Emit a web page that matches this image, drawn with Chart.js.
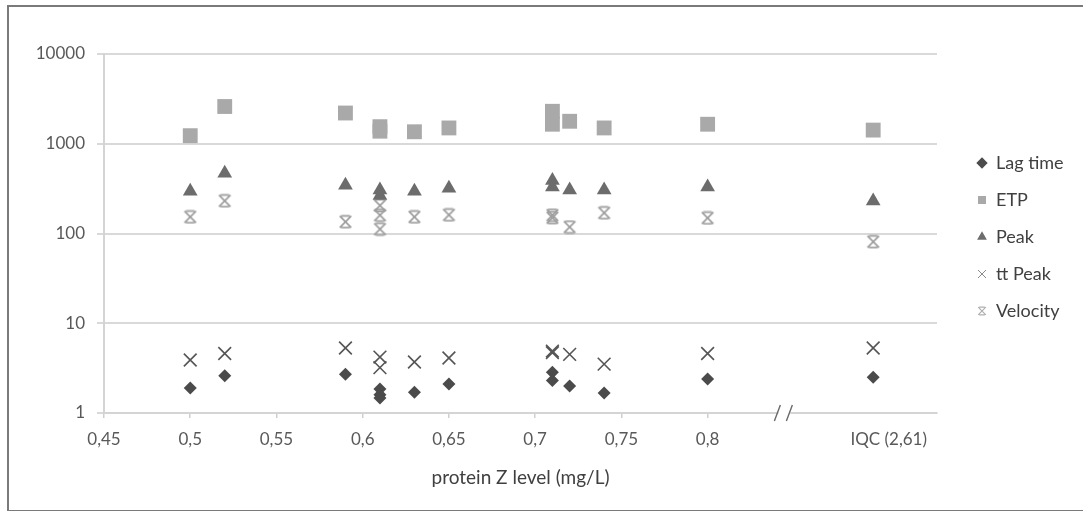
<!DOCTYPE html>
<html>
<head>
<meta charset="utf-8">
<script src="https://cdn.jsdelivr.net/npm/chart.js@4.4.1/dist/chart.umd.min.js"></script>
<style>
  html, body { margin: 0; padding: 0; background: #fff; overflow: hidden; }
  #wrap { position: relative; width: 1083px; height: 511px; }
  #frame { position: absolute; left: 7px; top: 5px; width: 1100px; height: 503px; border: 2px solid #7a7a7a; pointer-events: none; }
  canvas { position: absolute; left: 0; top: 0; }
</style>
</head>
<body>
<div id="wrap">
  <canvas id="c" width="1083" height="511"></canvas>
  <div id="frame"></div>
</div>
<script>
// ---- data ----
const IQC_X = 0.896; // plotted position of the IQC sample (beyond the axis break)

const lagX = [0.5, 0.52, 0.59, 0.61, 0.61, 0.61, 0.63, 0.65, 0.71, 0.71, 0.72, 0.74, 0.8, IQC_X];
const lagY = [1.9, 2.6, 2.7, 1.85, 1.6, 1.47, 1.7, 2.1, 2.85, 2.3, 2.0, 1.67, 2.4, 2.5];

const etpX = [0.5, 0.52, 0.59, 0.61, 0.61, 0.63, 0.65, 0.71, 0.71, 0.72, 0.74, 0.8, IQC_X];
const etpY = [1230, 2600, 2200, 1550, 1380, 1360, 1500, 2300, 1650, 1780, 1500, 1650, 1420];

const peakX = [0.5, 0.52, 0.59, 0.61, 0.61, 0.63, 0.65, 0.71, 0.71, 0.72, 0.74, 0.8, IQC_X];
const peakY = [295, 470, 345, 305, 265, 295, 320, 390, 330, 305, 305, 330, 230];

const ttPeakX = [0.5, 0.52, 0.59, 0.61, 0.61, 0.63, 0.65, 0.71, 0.71, 0.72, 0.74, 0.8, IQC_X];
const ttPeakY = [3.9, 4.6, 5.3, 4.2, 3.2, 3.7, 4.1, 4.9, 4.7, 4.5, 3.5, 4.6, 5.3];

const velX = [0.5, 0.52, 0.59, 0.61, 0.61, 0.61, 0.63, 0.65, 0.71, 0.71, 0.72, 0.74, 0.8, IQC_X];
const velY = [153, 231, 135, 205, 160, 112, 153, 161, 160, 150, 118, 170, 149, 81];

const xTickValues = [0.45, 0.5, 0.55, 0.6, 0.65, 0.7, 0.75, 0.8, 0.905];
const xTickLabels = ['0,45', '0,5', '0,55', '0,6', '0,65', '0,7', '0,75', '0,8', 'IQC (2,61)'];
const yTickValues = [1, 10, 100, 1000, 10000];
const BREAK_X = 0.8445;

function pts(xs, ys) { return xs.map((x, i) => ({ x: x, y: ys[i] })); }

// custom "star" marker (X with short bars top and bottom)
function starMarker(size, color, lw) {
  const c = document.createElement('canvas');
  c.width = size; c.height = size;
  const g = c.getContext('2d');
  g.strokeStyle = color; g.lineWidth = lw; g.lineCap = 'butt';
  const p = lw, q = size - lw, m = size / 2, h = size * 0.28;
  g.beginPath();
  g.moveTo(p, p); g.lineTo(q, q);
  g.moveTo(q, p); g.lineTo(p, q);
  g.moveTo(m - h, p); g.lineTo(m + h, p);
  g.moveTo(m - h, q); g.lineTo(m + h, q);
  g.stroke();
  return c;
}
const starBig = starMarker(15, '#9e9e9e', 1.7);
const starSmall = starMarker(10, '#b0b0b0', 1.2);

const breakPlugin = {
  id: 'axisBreak',
  afterDraw(chart) {
    const xs = chart.scales.x, ys = chart.scales.y;
    const ctx = chart.ctx;
    const px = xs.getPixelForValue(BREAK_X);
    const py = ys.bottom;
    ctx.save();
    ctx.fillStyle = '#fff';
    ctx.fillRect(px - 6, py - 3, 12, 6);
    ctx.strokeStyle = '#6a6a6a';
    ctx.lineWidth = 1.4;
    ctx.beginPath();
    ctx.moveTo(px - 10, py + 8); ctx.lineTo(px - 4, py - 8);
    ctx.moveTo(px + 2, py + 8); ctx.lineTo(px + 8, py - 8);
    ctx.stroke();
    ctx.restore();
  }
};

// fixed legend box: width, horizontal offset and vertical centre
const LEGEND_W = 146, LEGEND_SHIFT = 21, LEGEND_CENTER = 237;
const legendPlugin = {
  id: 'legendPlace',
  beforeUpdate(chart) {
    const lg = chart.legend;
    if (lg && !lg._wrappedFit) {
      const orig = lg.fit;
      lg.fit = function () { orig.call(this); this.width = LEGEND_W; };
      lg._wrappedFit = true;
    }
  },
  afterLayout(chart) {
    const lg = chart.legend;
    if (!lg) return;
    lg.left += LEGEND_SHIFT; lg.right += LEGEND_SHIFT;
    const dy = LEGEND_CENTER - (lg.top + lg.bottom) / 2;
    lg.top += dy; lg.bottom += dy;
  }
};

const FONT = 'Lato, "Open Sans", sans-serif';

new Chart(document.getElementById('c'), {
  type: 'scatter',
  data: {
    datasets: [
      { label: 'Lag time', data: pts(lagX, lagY), pointStyle: 'rectRot', pointRadius: 6.5,
        backgroundColor: '#4b4b4b', borderColor: '#4b4b4b', borderWidth: 0 },
      { label: 'ETP', data: pts(etpX, etpY), pointStyle: 'rect', pointRadius: 10.5,
        backgroundColor: '#a9a9a9', borderColor: '#a9a9a9', borderWidth: 0 },
      { label: 'Peak', data: pts(peakX, peakY), pointStyle: 'triangle', pointRadius: 8.5,
        backgroundColor: '#6c6c6c', borderColor: '#6c6c6c', borderWidth: 0 },
      { label: 'tt Peak', data: pts(ttPeakX, ttPeakY), pointStyle: 'crossRot', pointRadius: 9,
        backgroundColor: '#555', borderColor: '#555', borderWidth: 1.6 },
      { label: 'Velocity', data: pts(velX, velY), pointStyle: starBig, pointRadius: 7,
        backgroundColor: '#9e9e9e', borderColor: '#9e9e9e', borderWidth: 1.6 }
    ]
  },
  options: {
    responsive: false,
    animation: false,
    layout: { padding: { left: 0, top: 54, right: 0, bottom: 0 } },
    plugins: {
      tooltip: { enabled: false },
      legend: {
        position: 'right',
        labels: {
          usePointStyle: true,
          boxWidth: 10, boxHeight: 8,
          padding: 19,
          color: '#404040',
          font: { family: FONT, size: 18 },
          generateLabels(chart) {
            const items = Chart.defaults.plugins.legend.labels.generateLabels(chart);
            items.forEach(it => {
              if (it.text === 'Velocity') it.pointStyle = starSmall;
              if (it.text === 'tt Peak') { it.lineWidth = 1; it.strokeStyle = '#8a8a8a'; }
            });
            return items;
          }
        }
      }
    },
    scales: {
      x: {
        type: 'linear',
        min: 0.45, max: 0.933,
        afterFit(scale) { scale.height = 98; },
        afterBuildTicks(scale) { scale.ticks = xTickValues.map(v => ({ value: v })); },
        ticks: {
          autoSkip: false, maxRotation: 0, padding: 11,
          color: '#595959', font: { family: FONT, size: 17 },
          callback(v, i) { return xTickLabels[i]; }
        },
        grid: {
          drawOnChartArea: false, drawTicks: true, tickLength: 5,
          tickColor: (c) => (c.index === xTickValues.length - 1 ? 'rgba(0,0,0,0)' : '#cfcfcf'),
          lineWidth: 1.5
        },
        border: { display: true, color: '#d4d4d4', width: 2 },
        title: {
          display: true, text: 'protein Z level (mg/L)',
          color: '#404040', font: { family: FONT, size: 19 }, padding: { top: 0, bottom: 22 }
        }
      },
      y: {
        type: 'logarithmic',
        min: 1, max: 10000,
        afterFit(scale) { scale.width = 104; },
        afterBuildTicks(scale) { scale.ticks = yTickValues.map(v => ({ value: v })); },
        ticks: {
          padding: 12, color: '#595959', font: { family: FONT, size: 17 },
          callback(v) { return String(v); }
        },
        grid: { color: '#d9d9d9', lineWidth: 2, drawTicks: true, tickLength: 7, tickColor: '#d9d9d9' },
        border: { display: true, color: '#d4d4d4', width: 2 }
      }
    }
  },
  plugins: [breakPlugin, legendPlugin]
});
</script>
</body>
</html>
